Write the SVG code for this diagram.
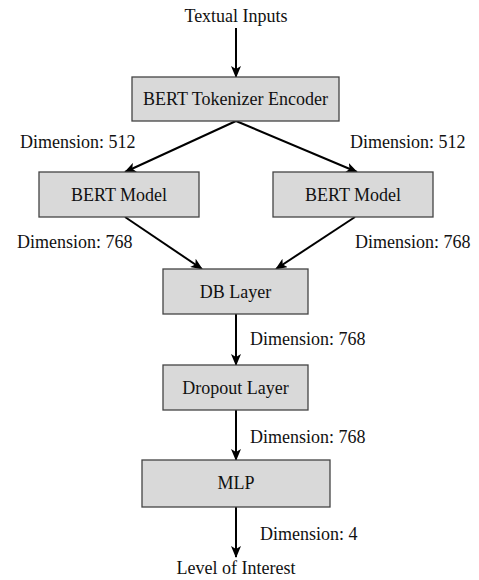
<svg xmlns="http://www.w3.org/2000/svg" width="479" height="580" viewBox="0 0 479 580">
<defs>
<marker id="ah" viewBox="0 0 12 10" refX="11" refY="5" markerWidth="12" markerHeight="10" markerUnits="userSpaceOnUse" orient="auto">
<path d="M0,0 L12,5 L0,10 L3,5 Z" fill="#000"/>
</marker>
<style>
.box{fill:#d9d9d9;stroke:#444;stroke-width:1.3}
.t{font-family:"Liberation Serif","Times New Roman",serif;font-size:18px;fill:#111}
.c{text-anchor:middle}
.e{stroke:#000;stroke-width:2;fill:none;marker-end:url(#ah)}
</style>
</defs>
<rect width="479" height="580" fill="#fff"/>
<g id="connectors">
<line class="e" x1="236" y1="28" x2="236" y2="77"/>
<line class="e" x1="236" y1="121" x2="125" y2="172"/>
<line class="e" x1="236" y1="121" x2="357" y2="172"/>
<line class="e" x1="125" y1="217" x2="202" y2="269"/>
<line class="e" x1="355" y1="217" x2="276" y2="269"/>
<line class="e" x1="236" y1="314" x2="236" y2="365"/>
<line class="e" x1="236" y1="410" x2="236" y2="460"/>
<line class="e" x1="236" y1="507" x2="236" y2="557"/>
</g>
<g id="labels">
<text class="t" x="20" y="148">Dimension: 512</text>
<text class="t" x="350" y="148">Dimension: 512</text>
<text class="t" x="17" y="248">Dimension: 768</text>
<text class="t" x="355" y="248">Dimension: 768</text>
<text class="t" x="250" y="345">Dimension: 768</text>
<text class="t" x="250" y="443">Dimension: 768</text>
<text class="t" x="260" y="540">Dimension: 4</text>
</g>
<g id="input"><text class="t c" x="236" y="22">Textual Inputs</text></g>
<g id="tokenizer"><rect class="box" x="132" y="77" width="207" height="44"/><text class="t c" x="235.5" y="105">BERT Tokenizer Encoder</text></g>
<g id="bert1"><rect class="box" x="39" y="172" width="160" height="45"/><text class="t c" x="119" y="201">BERT Model</text></g>
<g id="bert2"><rect class="box" x="273" y="172" width="160" height="45"/><text class="t c" x="353" y="201">BERT Model</text></g>
<g id="db"><rect class="box" x="163" y="269" width="145" height="45"/><text class="t c" x="235.5" y="298">DB Layer</text></g>
<g id="dropout"><rect class="box" x="163" y="365" width="145" height="45"/><text class="t c" x="235.5" y="394">Dropout Layer</text></g>
<g id="mlp"><rect class="box" x="142" y="460" width="188" height="47"/><text class="t c" x="236" y="489">MLP</text></g>
<g id="output"><text class="t c" x="236" y="574">Level of Interest</text></g>
</svg>
